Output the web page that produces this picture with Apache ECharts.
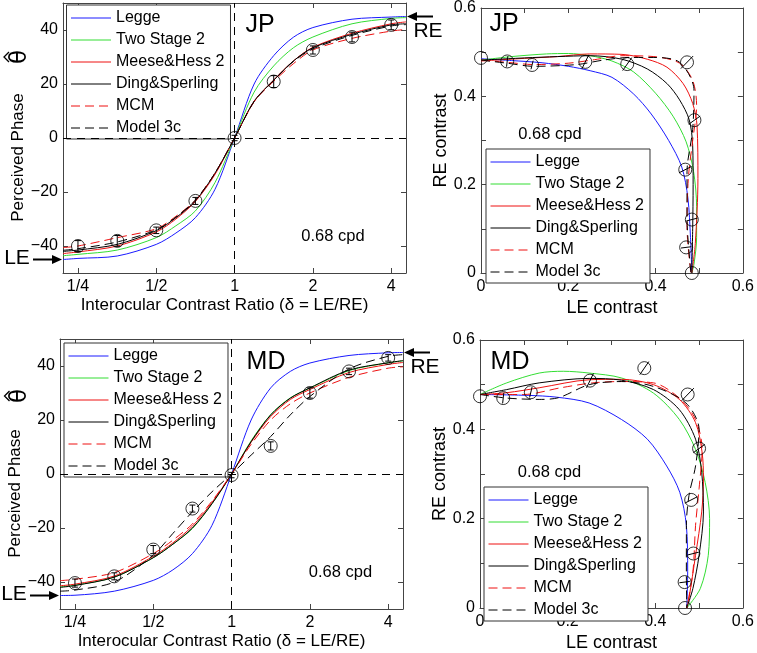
<!DOCTYPE html>
<html><head><meta charset="utf-8">
<script src="https://cdn.jsdelivr.net/npm/echarts@6/dist/echarts.min.js"></script>
<style>html,body{margin:0;padding:0;background:#fff}#c{width:757px;height:653px}</style>
</head><body><div id="c"></div>
<script>
// ---------------- DATA ----------------
const modelNames = ['Legge', 'Two Stage 2', 'Meese&Hess 2', 'Ding&Sperling', 'MCM', 'Model 3c'];
const ratioTickValues = [0.25, 0.5, 1, 2, 4];
const ratioTickLabels = ['1/4', '1/2', '1', '2', '4'];
const phaseTickValues = [-40, -20, 0, 20, 40];
const contrastTickValues = [0, 0.1, 0.2, 0.3, 0.4, 0.5, 0.6];
const contrastLabelValues = [0, 0.2, 0.4, 0.6];
const ratioRange = [0.219, 4.56];
const phaseRange = [-50, 50];
const contrastRange = [0, 0.6];
const eyeLabelPhase = [-45, 45];

// interocular contrast ratio samples (delta = LE/RE) for model curves
const curveRatios = [0.219, 0.25, 0.354, 0.5, 0.595, 0.707, 0.841, 1, 1.189, 1.414, 1.682, 2, 2.828, 4, 4.56];
// measured ratios
const dataRatios = [0.25, 0.354, 0.5, 0.707, 1, 1.414, 2, 2.828, 4];

// JP perceived phase (deg)
const jpLegge   = [-45, -44.6, -43.7, -39.4, -35.2, -29.5, -19, 0, 20, 30.5, 37.3, 40.9, 44, 44.8, 45];
const jpTwo     = [-43.6, -43.1, -41.5, -36.9, -32.5, -27, -16.5, 0, 17, 26.7, 33.4, 37.4, 42.3, 44.3, 44.6];
const jpMeese   = [-42.8, -42.2, -40, -34.8, -30, -23.5, -13.5, 0, 13.5, 21.5, 28.5, 33.6, 38.8, 42.3, 43];
const jpDing    = [-42, -41.5, -39.4, -34.3, -29.5, -23.3, -13, 0, 13.7, 21.4, 28.5, 33.4, 38.4, 41.9, 42.3];
const jpMCM     = [-40.6, -40, -36.9, -33.6, -29, -23, -13, 0, 13.5, 21, 27.5, 32.6, 36.9, 39.6, 40.2];
const jpModel3c = [-41.6, -41, -38.5, -34, -29.3, -23, -13, 0, 13.5, 21.3, 28.3, 33, 38, 41.5, 42];
const jpPhase    = [-40, -38.1, -34.2, -23.3, 0, 20.9, 32.6, 37.4, 41.9];
const jpPhaseErr = [2.0, 2.0, 1.2, 1.3, 1.0, 2.2, 1.5, 1.8, 1.8];

// MD perceived phase (deg)
const mdLegge   = [-45, -44.9, -43.4, -39.4, -35.5, -29.5, -19, 0, 20, 31.9, 38, 41.1, 43.9, 44.9, 45];
const mdTwo     = [-41.8, -41.2, -38.2, -31, -26, -20.2, -11, 0, 12.3, 22, 28.2, 31.8, 38.3, 41.2, 41.9];
const mdMeese   = [-41.4, -40.8, -37.8, -30.5, -25.5, -19.3, -10.5, 0, 11.8, 21.3, 27.6, 31.3, 37.6, 40.6, 41.3];
const mdDing    = [-42, -41.3, -38.2, -31, -26, -20, -11, 0, 12, 21.9, 28.1, 31.9, 38.5, 41.2, 42];
const mdMCM     = [-39.5, -39, -36.5, -29.5, -24.5, -18.5, -10, 0, 11, 20, 26, 30, 35.8, 39.2, 39.7];
const mdModel3c = [-43.4, -43, -40, -30, -22, -14, -6.6, 0, 7, 13.9, 21.9, 28.7, 38.9, 43.6, 44.2];
const mdPhase    = [-40.4, -37.9, -28, -12.8, -0.4, 10.4, 30, 38, 43];
const mdPhaseErr = [1.5, 1.3, 1.5, 1.3, 1.0, 1.5, 1.9, 1.2, 1.2];

// JP threshold contours [LE contrast, RE contrast]
const jpCLegge = [[0,0.485],[0.07,0.481],[0.14,0.476],[0.2,0.468],[0.25,0.458],[0.3,0.443],[0.35,0.405],[0.39,0.36],[0.43,0.3],[0.46,0.24],[0.474,0.17],[0.48,0.08],[0.483,0]];
const jpCTwo   = [[0,0.482],[0.07,0.49],[0.15,0.496],[0.2,0.497],[0.25,0.492],[0.3,0.48],[0.35,0.455],[0.4,0.407],[0.44,0.355],[0.47,0.297],[0.487,0.23],[0.494,0.15],[0.494,0.08],[0.488,0.02],[0.483,0]];
const jpCMeese = [[0,0.48],[0.1,0.486],[0.175,0.49],[0.249,0.496],[0.323,0.495],[0.381,0.484],[0.426,0.466],[0.463,0.429],[0.485,0.384],[0.495,0.333],[0.497,0.214],[0.491,0.067],[0.483,0]];
const jpCDing  = [[0,0.482],[0.1,0.487],[0.175,0.49],[0.25,0.492],[0.323,0.484],[0.381,0.462],[0.426,0.429],[0.455,0.392],[0.477,0.347],[0.485,0.288],[0.486,0.2],[0.485,0.1],[0.483,0]];
const jpCMCM   = [[0,0.482],[0.06,0.477],[0.12,0.472],[0.2,0.475],[0.26,0.483],[0.323,0.492],[0.396,0.49],[0.455,0.475],[0.485,0.436],[0.494,0.378],[0.485,0.3],[0.475,0.214],[0.472,0.103],[0.481,0]];
const jpCModel3c = [[0,0.482],[0.06,0.475],[0.12,0.468],[0.22,0.472],[0.28,0.482],[0.34,0.488],[0.396,0.488],[0.455,0.477],[0.488,0.414],[0.485,0.325],[0.472,0.229],[0.472,0.125],[0.481,0]];
const jpContrast = [[0,0.487],[0.06,0.479],[0.117,0.471],[0.239,0.478],[0.335,0.473],[0.472,0.477],[0.489,0.346],[0.468,0.234],[0.483,0.121],[0.47,0.058],[0.483,0]];
const jpContrastErr = [0, 0.012, 0.01, 0.018, 0.018, 0.02, 0.016, 0.016, 0.013, 0.012, 0];

// MD threshold contours
const mdCLegge = [[0,0.478],[0.11,0.476],[0.175,0.472],[0.249,0.459],[0.323,0.422],[0.382,0.378],[0.426,0.318],[0.456,0.259],[0.471,0.185],[0.474,0.081],[0.472,0]];
const mdCTwo   = [[0,0.478],[0.061,0.504],[0.135,0.526],[0.19,0.53],[0.249,0.526],[0.323,0.515],[0.396,0.481],[0.455,0.422],[0.492,0.355],[0.514,0.281],[0.524,0.2],[0.521,0.118],[0.503,0.044],[0.472,0]];
const mdCMeese = [[0,0.478],[0.061,0.482],[0.135,0.493],[0.249,0.511],[0.323,0.512],[0.396,0.5],[0.455,0.467],[0.492,0.415],[0.507,0.348],[0.51,0.289],[0.506,0.215],[0.492,0.118],[0.477,0.022],[0.472,0]];
const mdCDing  = [[0,0.478],[0.061,0.489],[0.135,0.504],[0.249,0.514],[0.323,0.51],[0.396,0.489],[0.455,0.444],[0.492,0.378],[0.506,0.304],[0.51,0.215],[0.5,0.118],[0.486,0.044],[0.472,0]];
const mdCMCM   = [[0,0.478],[0.1,0.478],[0.184,0.493],[0.257,0.504],[0.323,0.507],[0.396,0.504],[0.455,0.47],[0.492,0.422],[0.507,0.355],[0.5,0.267],[0.492,0.185],[0.486,0.081],[0.472,0]];
const mdCModel3c = [[0,0.478],[0.061,0.47],[0.135,0.467],[0.18,0.471],[0.249,0.5],[0.323,0.507],[0.396,0.496],[0.47,0.459],[0.5,0.4],[0.492,0.318],[0.477,0.252],[0.471,0.185],[0.471,0.081],[0.472,0]];
const mdContrast = [[0,0.474],[0.053,0.47],[0.116,0.483],[0.251,0.509],[0.375,0.537],[0.474,0.478],[0.5,0.357],[0.482,0.242],[0.487,0.122],[0.467,0.058],[0.468,0]];
const mdContrastErr = [0, 0.012, 0.012, 0.018, 0.018, 0.02, 0.016, 0.016, 0.013, 0.012, 0];

const panelNames = ['JP', 'JP', 'MD', 'MD'];
const cpdText = '0.68 cpd';
const phaseSymbol = 'θ';

// ---------------- STYLE / LAYOUT ----------------
const FONT = 'Liberation Sans';
const modelStyles = [
  { color: '#1a1aff', type: 'solid' },
  { color: '#33dd33', type: 'solid' },
  { color: '#ee1111', type: 'solid' },
  { color: '#000000', type: 'solid' },
  { color: '#ee1111', type: [9, 5] },
  { color: '#000000', type: [9, 5] }
];
const grids = [
  { left: 63, top: 3, width: 343, height: 270 },
  { left: 481, top: 3, width: 271, height: 270 },
  { left: 60, top: 339, width: 343, height: 270 },
  { left: 480, top: 340, width: 271, height: 270 }
];
const legendPos = [[66.5, 5], [486, 149], [64, 343], [484, 487]];
const thetaPos = [[20, 57], [20.5, 396]];
const L2 = v => Math.log2(v);

const xAxes = [], yAxes = [], series = [], legends = [];
const axisLineStyle = { color: '#444', width: 1 };
const labelStyle = { color: '#000', fontSize: 16, fontFamily: FONT };

function phasePanel(g) {
  const xMin = L2(ratioRange[0]), xMax = L2(ratioRange[1]);
  const xt = ratioTickValues.map(L2);
  const base = { type: 'value', gridIndex: g, min: xMin, max: xMax, splitLine: { show: false },
    axisLine: { onZero: false, lineStyle: axisLineStyle },
    axisTick: { inside: true, length: 5, customValues: xt, lineStyle: axisLineStyle } };
  xAxes.push(Object.assign({}, base, { position: 'bottom',
    axisLabel: Object.assign({ customValues: xt, margin: 6,
      formatter: v => ratioTickLabels[xt.findIndex(t => Math.abs(t - v) < 1e-6)] }, labelStyle),
    name: 'Interocular Contrast Ratio (δ = LE/RE)', nameLocation: 'middle', nameGap: 24,
    nameTextStyle: { color: '#000', fontSize: 17, fontFamily: FONT, padding: [0, 20, 0, 0] } }));
  xAxes.push(Object.assign({}, base, { position: 'top', axisLabel: { show: false } }));
  const ybase = { type: 'value', gridIndex: g, min: phaseRange[0], max: phaseRange[1], splitLine: { show: false },
    axisLine: { onZero: false, lineStyle: axisLineStyle },
    axisTick: { inside: true, length: 5, customValues: phaseTickValues, lineStyle: axisLineStyle } };
  yAxes.push(Object.assign({}, ybase, { position: 'left',
    axisLabel: Object.assign({ customValues: phaseTickValues, margin: 5,
      formatter: v => String(v).replace('-', '\u2212') }, labelStyle),
    name: 'Perceived Phase', nameLocation: 'middle', nameRotate: 90, nameGap: 25,
    nameTextStyle: { color: '#000', fontSize: 17, fontFamily: FONT, padding: [0, 39, 0, 0] } }));
  yAxes.push(Object.assign({}, ybase, { position: 'right', axisLabel: { show: false } }));
}
function contrastPanel(g) {
  const base = { type: 'value', gridIndex: g, min: contrastRange[0], max: contrastRange[1], splitLine: { show: false },
    axisLine: { onZero: false, lineStyle: axisLineStyle },
    axisTick: { inside: true, length: 5, customValues: contrastTickValues, lineStyle: axisLineStyle } };
  xAxes.push(Object.assign({}, base, { position: 'bottom',
    axisLabel: Object.assign({ customValues: contrastLabelValues, margin: 6 }, labelStyle),
    name: 'LE contrast', nameLocation: 'middle', nameGap: 26,
    nameTextStyle: { color: '#000', fontSize: 18, fontFamily: FONT } }));
  xAxes.push(Object.assign({}, base, { position: 'top', axisLabel: { show: false } }));
  yAxes.push(Object.assign({}, base, { position: 'left',
    axisLabel: Object.assign({ customValues: contrastLabelValues, margin: 5 }, labelStyle),
    name: 'RE contrast', nameLocation: 'middle', nameRotate: 90, nameGap: 25,
    nameTextStyle: { color: '#000', fontSize: 18, fontFamily: FONT } }));
  yAxes.push(Object.assign({}, base, { position: 'right', axisLabel: { show: false } }));
}

function addLines(g, curves) {
  curves.forEach((data, i) => {
    series.push({
      type: 'line', name: modelNames[i], xAxisIndex: 2 * g, yAxisIndex: 2 * g,
      data, symbol: 'none', smooth: 0.3, z: 3, silent: true,
      lineStyle: { color: modelStyles[i].color, width: 1, type: modelStyles[i].type },
      itemStyle: { color: modelStyles[i].color }
    });
  });
}
function vbar(params, api) {
  const x = api.value(0), y = api.value(1), e = api.value(2);
  const a = api.coord([x, y - e]), b = api.coord([x, y + e]);
  const w = 3, st = { stroke: '#000', lineWidth: 1 };
  return { type: 'group', children: [
    { type: 'line', shape: { x1: a[0], y1: a[1], x2: b[0], y2: b[1] }, style: st },
    { type: 'line', shape: { x1: a[0] - w, y1: a[1], x2: a[0] + w, y2: a[1] }, style: st },
    { type: 'line', shape: { x1: b[0] - w, y1: b[1], x2: b[0] + w, y2: b[1] }, style: st }
  ] };
}
function rbar(params, api) {
  const x = api.value(0), y = api.value(1), e = api.value(2);
  const r = Math.hypot(x, y) || 1;
  const ux = x / r, uy = y / r;
  const a = api.coord([x - e * ux, y - e * uy]), b = api.coord([x + e * ux, y + e * uy]);
  return { type: 'line', shape: { x1: a[0], y1: a[1], x2: b[0], y2: b[1] }, style: { stroke: '#000', lineWidth: 1 } };
}
function addPoints(g, pts, errs, renderItem) {
  series.push({ type: 'custom', xAxisIndex: 2 * g, yAxisIndex: 2 * g, renderItem, z: 5, silent: true,
    data: pts.map((p, i) => [p[0], p[1], errs[i]]) });
  series.push({ type: 'scatter', xAxisIndex: 2 * g, yAxisIndex: 2 * g, data: pts, symbol: 'circle', symbolSize: 13, z: 6, silent: true,
    itemStyle: { color: 'rgba(0,0,0,0)', borderColor: '#000', borderWidth: 1 } });
}
function addRefLines(g) {
  series.push({ type: 'line', xAxisIndex: 2 * g, yAxisIndex: 2 * g, data: [], silent: true,
    markLine: { silent: true, symbol: 'none', label: { show: false }, animation: false,
      lineStyle: { color: '#000', width: 1, type: [8, 6] },
      data: [{ xAxis: L2(1) }, { yAxis: 0 }] } });
}

// Panel 0: JP phase
phasePanel(0);
addRefLines(0);
addLines(0, [jpLegge, jpTwo, jpMeese, jpDing, jpMCM, jpModel3c].map(v => curveRatios.map((r, i) => [L2(r), v[i]])));
addPoints(0, dataRatios.map((r, i) => [L2(r), jpPhase[i]]), jpPhaseErr, vbar);
// Panel 1: JP contrast
contrastPanel(1);
addLines(1, [jpCLegge, jpCTwo, jpCMeese, jpCDing, jpCMCM, jpCModel3c]);
addPoints(1, jpContrast, jpContrastErr, rbar);
// Panel 2: MD phase
phasePanel(2);
addRefLines(2);
addLines(2, [mdLegge, mdTwo, mdMeese, mdDing, mdMCM, mdModel3c].map(v => curveRatios.map((r, i) => [L2(r), v[i]])));
addPoints(2, dataRatios.map((r, i) => [L2(r), mdPhase[i]]), mdPhaseErr, vbar);
// Panel 3: MD contrast
contrastPanel(3);
addLines(3, [mdCLegge, mdCTwo, mdCMeese, mdCDing, mdCMCM, mdCModel3c]);
addPoints(3, mdContrast, mdContrastErr, rbar);

legendPos.forEach(p => legends.push({
  left: p[0], top: p[1], orient: 'vertical', data: modelNames, selectedMode: false,
  itemWidth: 40, itemHeight: 14, itemGap: 6, padding: [5, 6, 3, 4],
  borderColor: '#333', borderWidth: 1, borderRadius: 0, backgroundColor: '#fff',
  itemStyle: { color: 'rgba(0,0,0,0)', borderColor: 'rgba(0,0,0,0)', borderWidth: 0, opacity: 0 },
  lineStyle: { width: 1 },
  textStyle: { fontSize: 16, color: '#000', fontFamily: FONT }
}));

const chart = echarts.init(document.getElementById('c'), null, { renderer: 'canvas' });
chart.setOption({
  animation: false, backgroundColor: '#fff',
  grid: grids, xAxis: xAxes, yAxis: yAxes, legend: legends, series
});

// annotations: panel labels, cpd text, eye arrows, theta-hat
const txt = (x, y, text, size, align) => ({ type: 'text', x, y, z: 10,
  style: { text, fontSize: size, fontFamily: FONT, fill: '#000', align: align || 'center', verticalAlign: 'middle' } });
const graphics = [
  txt(260, 25, panelNames[0], 25), txt(504, 24, panelNames[1], 25),
  txt(266, 362, panelNames[2], 25), txt(510, 362, panelNames[3], 25),
  txt(333, 236, cpdText, 16.5), txt(550, 134, cpdText, 16.5),
  txt(340.5, 572.5, cpdText, 16.5), txt(549.5, 472.5, cpdText, 16.5)
];
thetaPos.forEach(([x, y]) => {
  graphics.push({ type: 'text', x, y, rotation: Math.PI / 2, z: 10,
    style: { text: phaseSymbol, fontSize: 23, fontFamily: 'DejaVu Sans', fill: '#000', align: 'center', verticalAlign: 'middle' } });
  graphics.push({ type: 'polyline', z: 10, shape: { points: [[x - 11, y - 5], [x - 16, y], [x - 11, y + 5]] },
    style: { stroke: '#000', lineWidth: 1.3, fill: null } });
});
function arrow(x1, x2, y) { // tip at x2
  const dir = Math.sign(x2 - x1), hl = 10, hw = 4.5;
  return [
    { type: 'line', z: 10, shape: { x1, y1: y, x2: x2 - dir * hl, y2: y }, style: { stroke: '#000', lineWidth: 2 } },
    { type: 'polygon', z: 10, shape: { points: [[x2, y], [x2 - dir * hl, y - hw], [x2 - dir * hl, y + hw]] }, style: { fill: '#000' } }
  ];
}
[[0, 0], [2, 2]].forEach(([g, ai]) => {
  const gr = grids[g];
  const yLE = chart.convertToPixel({ yAxisIndex: 2 * ai }, eyeLabelPhase[0]);
  const yRE = chart.convertToPixel({ yAxisIndex: 2 * ai }, eyeLabelPhase[1]);
  graphics.push(...arrow(gr.left - 30, gr.left - 1, yLE));
  graphics.push(txt(gr.left - 46, yLE - 1, 'LE', 21));
  const xr = gr.left + gr.width;
  graphics.push(...arrow(xr + 27, xr + 1, yRE));
  graphics.push(txt(xr + 22, yRE + 15, 'RE', 21));
});
chart.setOption({ graphic: graphics });
</script></body></html>
